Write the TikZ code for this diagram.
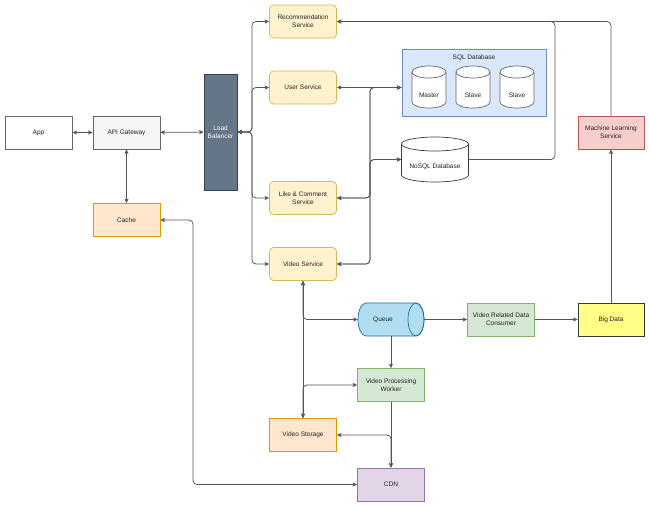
\documentclass[tikz,border=0pt]{standalone}
\usepackage{fontspec}
\setmainfont{Liberation Sans}
\usetikzlibrary{arrows.meta}
\definecolor{edgec}{HTML}{555555}
\definecolor{yelF}{HTML}{FFF2CC}\definecolor{yelS}{HTML}{D6B656}
\definecolor{orgF}{HTML}{FFE6CC}\definecolor{orgS}{HTML}{D79B00}
\definecolor{grnF}{HTML}{D5E8D4}\definecolor{grnS}{HTML}{82B366}
\definecolor{purF}{HTML}{E1D5E7}\definecolor{purS}{HTML}{9673A6}
\definecolor{redF}{HTML}{F8CECC}\definecolor{redS}{HTML}{B85450}
\definecolor{bluF}{HTML}{DAE8FC}\definecolor{bluS}{HTML}{6C8EBF}
\definecolor{queF}{HTML}{B1DDF0}\definecolor{queS}{HTML}{10739E}
\definecolor{bigF}{HTML}{FFFF88}\definecolor{bigS}{HTML}{36393D}
\definecolor{lbF}{HTML}{647687}\definecolor{lbS}{HTML}{314354}
\definecolor{gwF}{HTML}{F5F5F5}\definecolor{gwS}{HTML}{666666}
\definecolor{txt}{HTML}{222222}
\newcommand\mycyl[6]{% cx, y1, y2, a, r, style
  \path[#6] (#1-#4,#2+#5) -- (#1-#4,#3-#5) arc[start angle=180,end angle=0,x radius=#4,y radius=#5] -- (#1+#4,#2+#5) arc[start angle=0,end angle=-180,x radius=#4,y radius=#5] -- cycle;
  \draw[#6,fill=none] (#1-#4,#2+#5) arc[start angle=180,end angle=0,x radius=#4,y radius=#5];
}
\begin{document}
\begin{tikzpicture}[x=1pt,y=-1pt,
  font=\fontsize{6.5}{8}\selectfont, text=txt,
  box/.style={draw, line width=0.7pt, minimum width=67pt, minimum height=33pt, align=center, inner sep=1pt},
  svc/.style={box, fill=yelF, draw=yelS, rounded corners=4pt},
  stor/.style={box, fill=orgF, draw=orgS},
  wrk/.style={box, fill=grnF, draw=grnS},
  anch/.style={inner sep=0pt, minimum width=#1},
  lbl/.style={inner sep=0pt, align=center},
  edgeline/.style={draw=edgec, line width=0.75pt, rounded corners=4pt},
  bi/.style={edgeline, {Stealth[length=4.5pt,width=4pt,inset=1pt]}-{Stealth[length=4.5pt,width=4pt,inset=1pt]}},
  uni/.style={edgeline, -{Stealth[length=4.5pt,width=4pt,inset=1pt]}}]
\useasboundingbox[fill=white] (0,0) rectangle (650,507);

% boxes
\node[box, draw=gwS, fill=white] (app) at (38.5,132.5) {App};
\node[box, draw=gwS, fill=gwF] (gw) at (126.5,132.5) {API Gateway};
\node[box, draw=lbS, fill=lbF, minimum width=33pt, minimum height=116pt, text=white] (lb) at (220.5,132) {Load\\Balancer};
\node[stor] (cache) at (126.5,220) {Cache};
\node[svc] (rec) at (303,21.5) {Recommendation\\Service};
\node[svc] (user) at (303,87.5) {User Service};
\node[svc] (like) at (303,198) {Like \& Comment\\Service};
\node[svc] (video) at (303,264) {Video Service};
\node[box, fill=redF, draw=redS, minimum width=66pt] (ml) at (611,132.5) {Machine Learning\\Service};
\node[wrk] (vrdc) at (501,319.5) {Video Related Data\\Consumer};
\node[box, fill=bigF, draw=bigS, minimum width=66pt] (bigdata) at (611,319.5) {Big Data};
\node[wrk] (vpw) at (391,385) {Video Processing\\Worker};
\node[stor] (vstore) at (303,435) {Video Storage};
\node[box, fill=purF, draw=purS] (cdn) at (391,484.5) {CDN};

% SQL container
\node[draw=bluS, fill=bluF, line width=0.7pt, minimum width=144pt, minimum height=67pt, inner sep=0pt] (sql) at (474,82.5) {};
\node[lbl] (sqltitle) at (474,58) {SQL Database};
\mycyl{429}{66}{108}{17}{6}{fill=white, draw=gwS, line width=0.7pt}
\mycyl{473}{66}{108}{17}{6}{fill=white, draw=gwS, line width=0.7pt}
\mycyl{517}{66}{108}{17}{6}{fill=white, draw=gwS, line width=0.7pt}
\node[anch=34pt, minimum height=42pt] (master) at (429,87) {};
\node[anch=34pt, minimum height=42pt] (slave1) at (473,87) {};
\node[anch=34pt, minimum height=42pt] (slave2) at (517,87) {};
\node[lbl] (mastert) at (429,95) {Master};
\node[lbl] (slave1t) at (473,95) {Slave};
\node[lbl] (slave2t) at (517,95) {Slave};

% NoSQL
\mycyl{435}{137}{182}{33.5}{7}{fill=white, draw=bigS, line width=0.7pt}
\node[anch=67pt, minimum height=45pt] (nosql) at (435,159.5) {};
\node[lbl] (nosqlt) at (435,167) {NoSQL Database};

% Queue (horizontal cylinder)
\path[fill=queF, draw=queS, line width=0.7pt] (416,303) -- (366,303) arc[start angle=270,end angle=90,x radius=8,y radius=16.5] -- (416,336) arc[start angle=90,end angle=-90,x radius=8,y radius=16.5] -- cycle;
\draw[queS, line width=0.7pt] (416,319.5) ellipse[x radius=8, y radius=16.5];
\node[anch=66pt, minimum height=33pt] (queue) at (391,319.5) {};
\node[lbl] (queuet) at (383,319.5) {Queue};

% coordinates
\coordinate (lbt) at (252,132);
\coordinate (dbx) at (370,0);
\coordinate (sqlin) at (sql.west |- user.east);
\coordinate (nb) at (555,0);
\coordinate (cachebend) at (193,220);

% edges
\draw[bi] (app) -- (gw);
\draw[bi] (gw) -- (lb);
\draw[bi] (gw) -- (cache);
\draw[bi] (lb.east) -- (lbt) |- (rec.west);
\draw[bi] (lb.east) -- (lbt) |- (user.west);
\draw[bi] (lb.east) -- (lbt) |- (like.west);
\draw[bi] (lb.east) -- (lbt) |- (video.west);
\draw[bi] (user.east) -- (sqlin);
\draw[bi] (like.east) -- (like.east -| dbx) |- (sqlin);
\draw[bi] (like.east) -- (like.east -| dbx) |- (nosql.west);
\draw[bi] (video.east) -- (video.east -| dbx) |- (sqlin);
\draw[bi] (video.east) -- (video.east -| dbx) |- (nosql.west);
\draw[uni] (nosql.east) -- (nosql.east -| nb) |- (rec.east);
\draw[uni] (ml.north) |- (rec.east);
\draw[uni] (bigdata) -- (ml);
\draw[uni] (queue.east) -- (vrdc);
\draw[uni] (vrdc) -- (bigdata);
\draw[bi] (video.south) -- (vstore.north);
\draw[bi] (video.south) |- (queue.west);
\draw[bi] (vstore.north) |- (vpw.west);
\draw[uni] (queue.south) -- (vpw.north);
\draw[uni] (vpw.south) -- (cdn.north);
\draw[bi] (vstore.east) -| (cdn.north);
\draw[bi] (cache.east) -- (cachebend) |- (cdn.west);
\end{tikzpicture}
\end{document}
